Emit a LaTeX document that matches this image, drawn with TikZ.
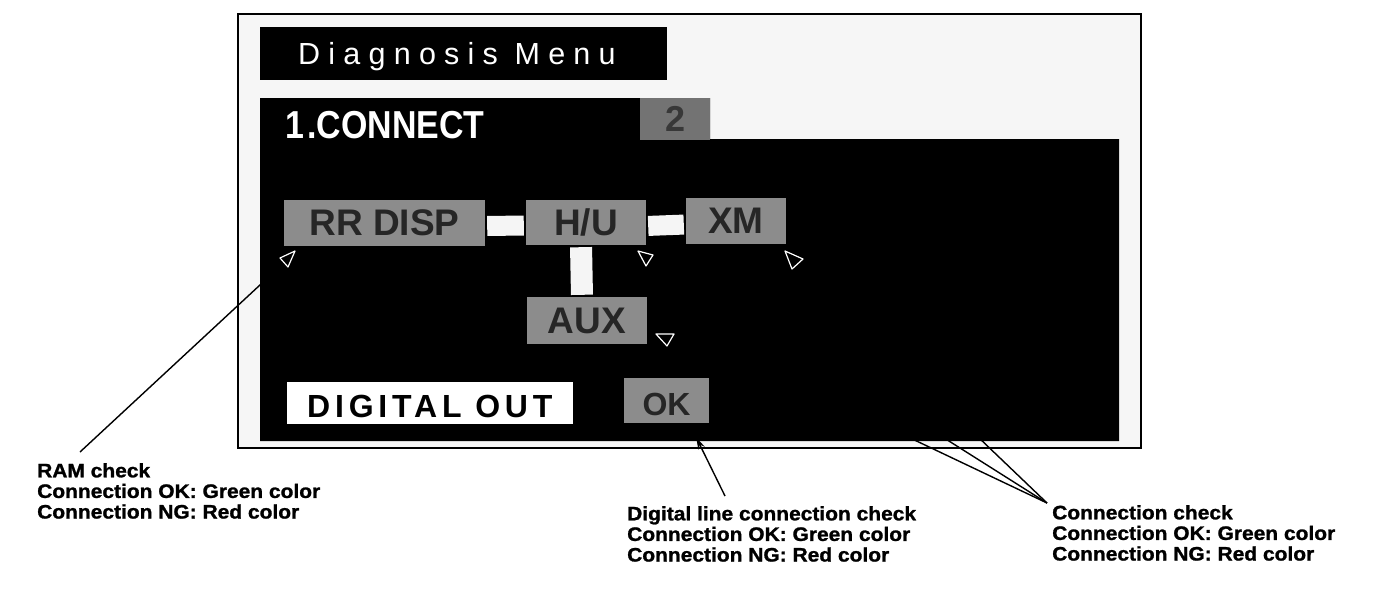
\documentclass[tikz,border=0pt]{standalone}
\usepackage{fontspec}
\usepackage{graphicx}
\setmainfont{Liberation Sans}
\newfontfamily\titlefont[LetterSpace=27]{Liberation Sans}
\newfontfamily\digfont[LetterSpace=15]{Liberation Sans}
\newfontfamily\labelfont[FakeStretch=1.075,FakeBold=1.2]{Liberation Sans Bold}
\usetikzlibrary{arrows.meta,calc}
\begin{document}
\begin{tikzpicture}[x=1pt,y=-1pt,
  graybox/.style={fill=black!45, inner sep=0pt, text=black!85,
    font=\fontsize{37}{37}\selectfont\bfseries},
  barline/.style={draw=gray!8, line width=20pt, shorten <=2pt, shorten >=2pt},
  marker/.style={draw=white, line width=1.2pt, line join=round},
  leader/.style={draw=black, line width=1.4pt},
  labeltext/.style={anchor=north west, inner sep=0pt, align=left,
    font=\labelfont\fontsize{19.5}{20.6}\selectfont}
]
\useasboundingbox (0,0) rectangle (1376,602);
% frame and screen background
\draw[line width=2.5pt, fill=gray!7] (238,14) rectangle (1141,448);
% title bar
\node[fill=black, inner sep=0pt, minimum width=407pt, minimum height=53pt, anchor=north west] (titlebar) at (260,27) {};
\node[anchor=base west, inner sep=0pt, text=white, font=\titlefont\fontsize{30.5}{30.5}\selectfont] (title) at (298,65) {Diagnosis Menu};
% main black area
\fill[black] (260,98) -- (710,98) -- (710,139) -- (1119,139) -- (1119,441) -- (260,441) -- cycle;
\node[fill=black!55, inner sep=0pt, minimum width=70pt, minimum height=42pt, anchor=north west] (pagebox) at (640,98) {};
\node[text=black!78, inner sep=0pt, font=\fontsize{36}{36}\selectfont\bfseries] (pagenum) at (pagebox.center) {2};
\node[anchor=base west, inner sep=0pt, text=white, font=\fontsize{39}{39}\selectfont\bfseries] (connect) at (285,138) {\scalebox{0.87}[1]{1\kern4pt.CONNECT}};
% component boxes
\node[graybox, minimum width=201pt, minimum height=46pt] (rr) at (384.5,223) {RR DISP};
\node[graybox, minimum width=120pt, minimum height=45pt] (hu) at (586,222.5) {H/U};
\node[graybox, minimum width=100pt, minimum height=46pt] (xm) at (736,221) {XM};
\node[graybox, minimum width=120pt, minimum height=47pt] (aux) at (587,320.5) {AUX};
% connection bars
\draw[barline] ([yshift=-3pt]rr.east) -- ([yshift=-3pt]hu.west);
\draw[barline] ([yshift=-3.5pt]hu.east) -- ([yshift=-3.5pt]xm.west);
\draw[barline, line width=22pt] ([xshift=-5pt]hu.south) -- ([xshift=-5pt]aux.north);
% markers
\draw[marker] (280,258) -- (295,251) -- (288,267) -- cycle;
\draw[marker] (638,251) -- (653,255) -- (646,266) -- cycle;
\draw[marker] (785,251) -- (803,259) -- (792,269) -- cycle;
\draw[marker] (656,334) -- (674,334) -- (667,346) -- cycle;
\coordinate (rrmark) at (288,259);
% digital out and OK
\node[fill=white, inner sep=0pt, minimum width=286pt, minimum height=42pt, anchor=north west] (digbox) at (287,382) {};
\node[anchor=base west, inner sep=0pt, text=black, font=\digfont\fontsize{32}{32}\selectfont\bfseries] (digtext) at (307,417) {DIGITAL OUT};
\node[fill=black!45, inner sep=0pt, minimum width=85pt, minimum height=45pt, anchor=north west] (ok) at (624,378) {};
\node[anchor=base, inner sep=0pt, text=black!85, font=\fontsize{32}{32}\selectfont\bfseries] (oktext) at (666.5,415) {OK};
% labels
\node[labeltext] (ram) at (37,463) {RAM check\\Connection OK: Green color\\Connection NG: Red color};
\node[labeltext] (dig) at (627,506) {Digital line connection check\\Connection OK: Green color\\Connection NG: Red color};
\node[labeltext] (con) at (1052,505) {Connection check\\Connection OK: Green color\\Connection NG: Red color};
% leaders
\coordinate (ramtip) at ([xshift=43pt,yshift=11pt]ram.north west);
\draw[leader, shorten >=9pt] (ramtip) -- (rrmark);
\coordinate (oktail) at ([xshift=98pt,yshift=10pt]dig.north west);
\draw[leader, -{Stealth[length=12pt,width=7pt]}] (oktail) -- ([xshift=29.5pt,yshift=-14pt]ok.south);
\coordinate (conpt) at ([xshift=-5pt,yshift=2pt]con.north west);
\coordinate (c1) at (906,436);
\coordinate (c2) at (941,436);
\coordinate (c3) at (977,436);
\draw[leader] (conpt) -- (c1);
\draw[leader] (conpt) -- (c2);
\draw[leader] (conpt) -- (c3);
\end{tikzpicture}
\end{document}
